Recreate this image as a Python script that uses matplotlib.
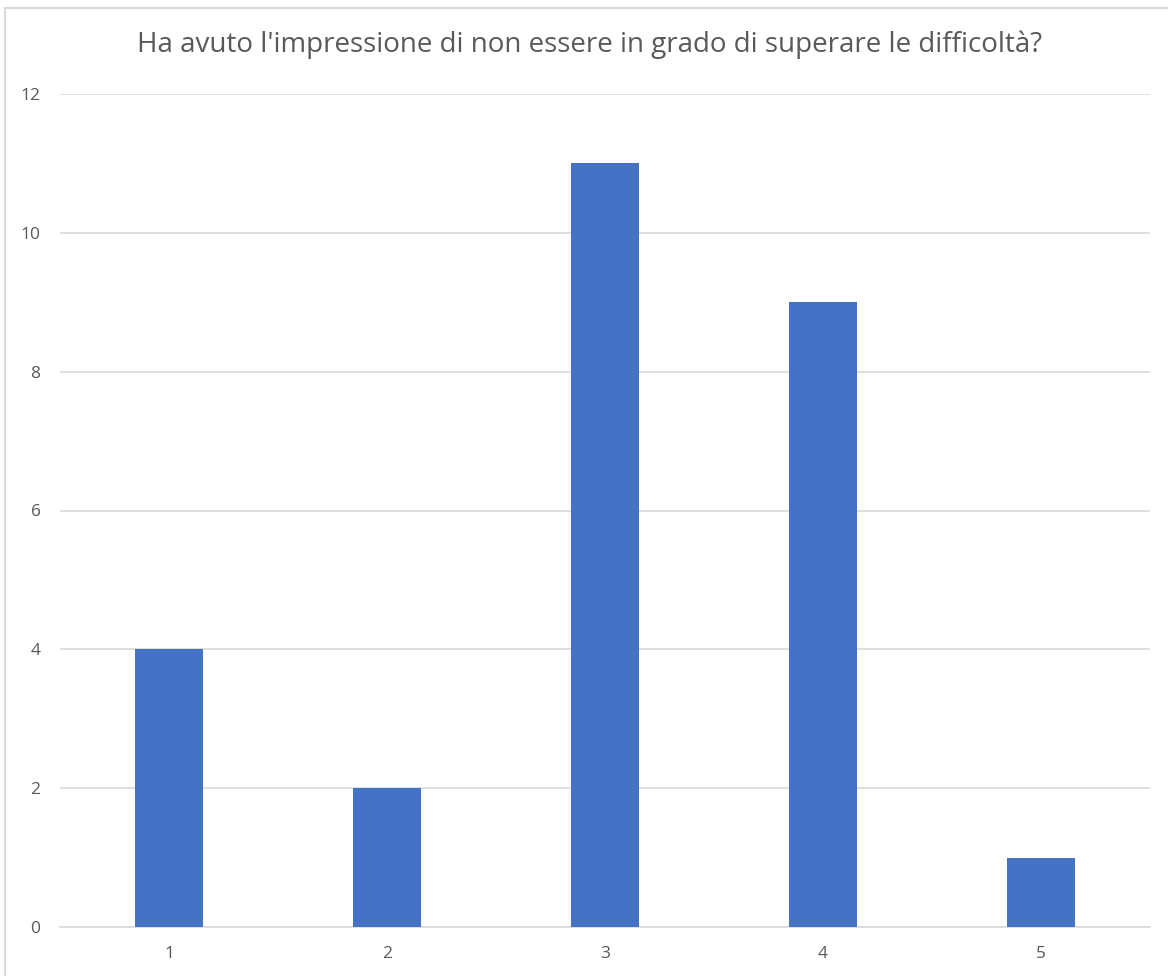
import matplotlib
matplotlib.use("Agg")
import matplotlib.pyplot as plt
import matplotlib.patches as patches

# data
categories = ["1", "2", "3", "4", "5"]
values = [4, 2, 11, 9, 1]
y_ticks = [0, 2, 4, 6, 8, 10, 12]
title = "Ha avuto l'impressione di non essere in grado di superare le difficoltà?"

BAR_COLOR = "#4472C4"
GRID_COLOR = "#D9D9D9"
TEXT_COLOR = "#595959"

plt.rcParams['font.family'] = ['Open Sans', 'DejaVu Sans']

fig = plt.figure(figsize=(11.68, 9.76), dpi=100)
ax = fig.add_axes([60 / 1168, 1 - 927 / 976, 1090 / 1168, 833 / 976])

positions = list(range(1, len(categories) + 1))
ax.bar(positions, values, width=0.312, color=BAR_COLOR, zorder=3)

ax.set_xlim(0.5, len(categories) + 0.5)
ax.set_ylim(0, 12)
ax.set_yticks(y_ticks)
ax.set_xticks(positions)
ax.set_xticklabels(categories)
ax.grid(axis='y', color=GRID_COLOR, linewidth=1.2, zorder=0)
ax.tick_params(axis='both', length=0, labelsize=12.5, colors=TEXT_COLOR)
ax.tick_params(axis='y', pad=14)
ax.tick_params(axis='x', pad=14)
for side in ['top', 'right', 'left']:
    ax.spines[side].set_visible(False)
ax.spines['bottom'].set_color(GRID_COLOR)
ax.spines['bottom'].set_linewidth(1.2)

fig.text(590 / 1168, 1 - 45 / 976, title, ha='center', va='center',
         fontsize=20, color=TEXT_COLOR)

# chart area border (partially visible in the crop)
border = patches.Rectangle((5 / 1168, -0.1), 1.2, 1 - 8 / 976 + 0.1,
                           transform=fig.transFigure, fill=False,
                           edgecolor=GRID_COLOR, linewidth=1.5)
fig.add_artist(border)

fig.savefig("out.png", dpi=100)
